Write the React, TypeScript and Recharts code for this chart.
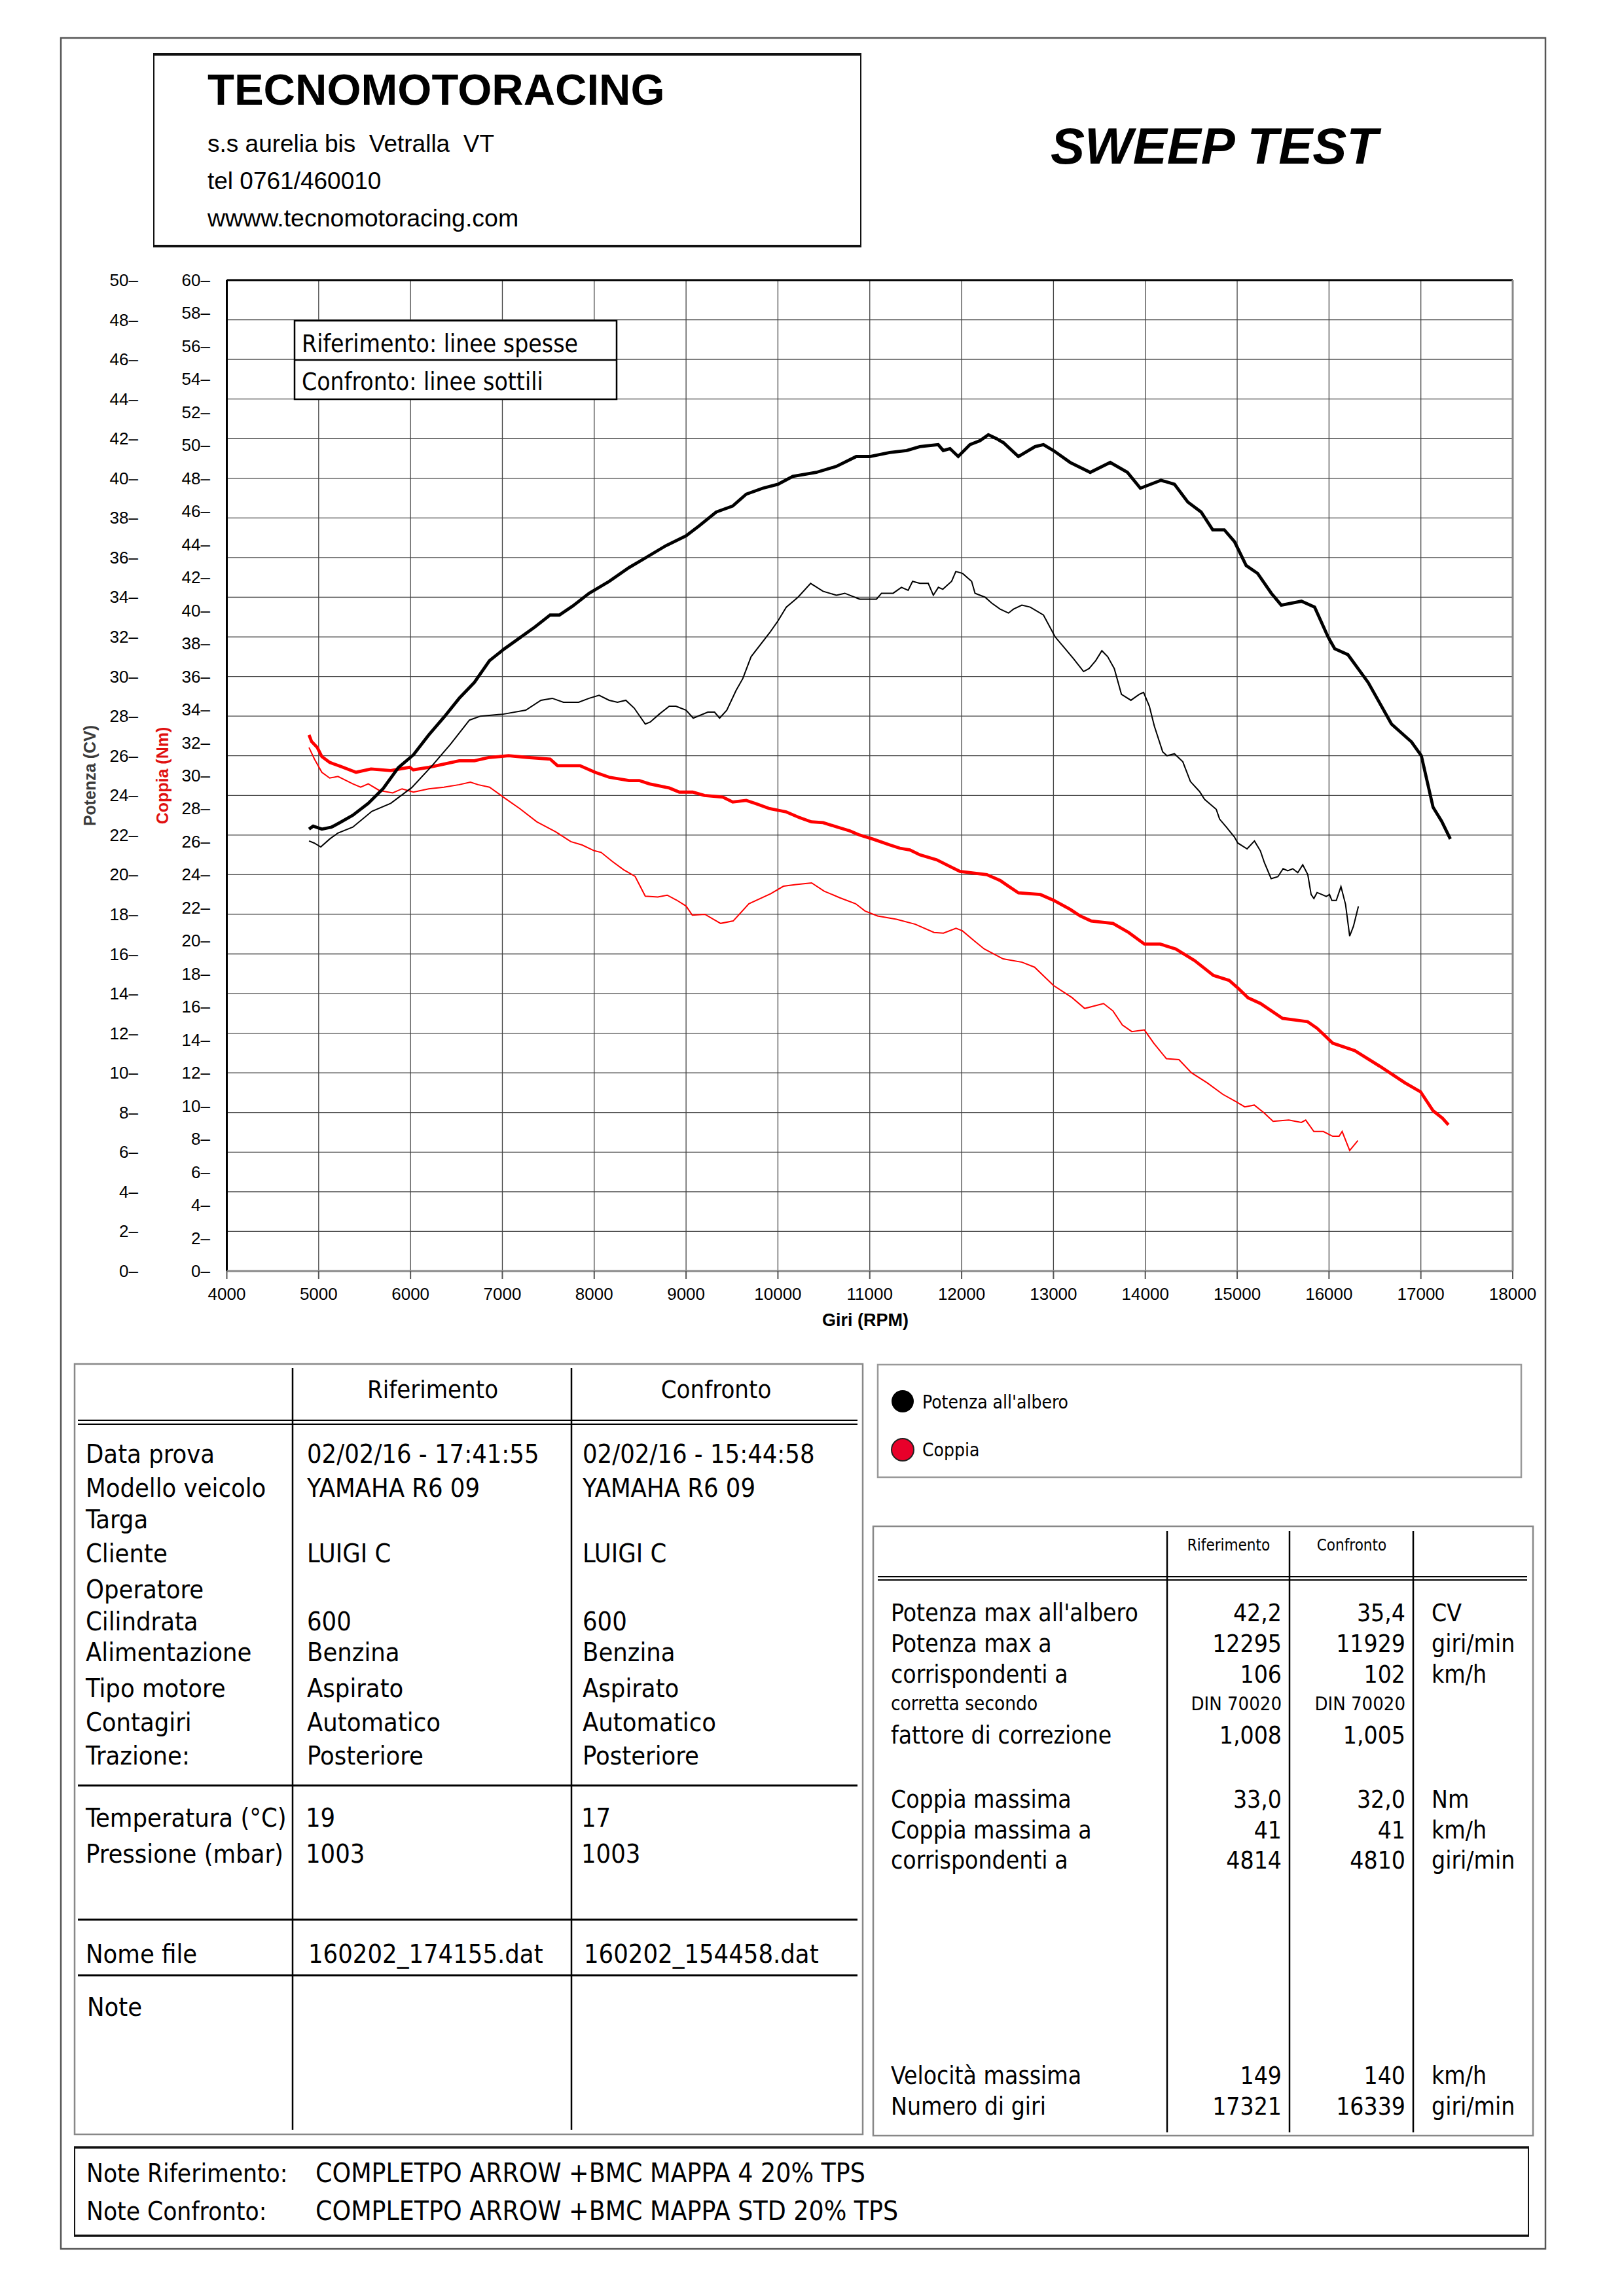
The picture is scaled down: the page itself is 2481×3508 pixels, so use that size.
import React from 'react';
import { LineChart, Line, XAxis, YAxis, CartesianGrid, ReferenceLine } from 'recharts';

// ---------- DATA ----------
const X_TICKS = [4000, 5000, 6000, 7000, 8000, 9000, 10000, 11000, 12000, 13000, 14000, 15000, 16000, 17000, 18000];
const POWER_TICKS = [0, 2, 4, 6, 8, 10, 12, 14, 16, 18, 20, 22, 24, 26, 28, 30, 32, 34, 36, 38, 40, 42, 44, 46, 48, 50];
const TORQUE_TICKS = [0, 2, 4, 6, 8, 10, 12, 14, 16, 18, 20, 22, 24, 26, 28, 30, 32, 34, 36, 38, 40, 42, 44, 46, 48, 50, 52, 54, 56, 58, 60];

// Riferimento - Potenza (CV), thick black
const REF_POWER: [number, number][] = [
  [4895, 22.3], [4940, 22.45], [5035, 22.3], [5140, 22.4], [5240, 22.65], [5372, 23.0], [5540, 23.6],
  [5703, 24.35], [5867, 25.4], [6032, 26.05], [6198, 27.05], [6365, 27.95], [6530, 28.9], [6695, 29.7],
  [6860, 30.8], [7023, 31.4], [7190, 31.95], [7355, 32.5], [7520, 33.1], [7620, 33.1], [7765, 33.55],
  [7945, 34.2], [8163, 34.8], [8380, 35.5], [8527, 35.9], [8780, 36.6], [9000, 37.1], [9143, 37.6],
  [9328, 38.3], [9507, 38.6], [9655, 39.2], [9834, 39.5], [10000, 39.7], [10162, 40.1], [10418, 40.3],
  [10636, 40.6], [10853, 41.1], [11000, 41.1], [11217, 41.3], [11402, 41.4], [11545, 41.6], [11745, 41.7],
  [11800, 41.4], [11873, 41.5], [11963, 41.1], [12091, 41.7], [12200, 41.9], [12291, 42.2], [12380, 42.0],
  [12455, 41.8], [12618, 41.1], [12800, 41.6], [12891, 41.7], [13000, 41.4], [13182, 40.8], [13400, 40.3],
  [13618, 40.8], [13805, 40.3], [13946, 39.5], [14171, 39.9], [14317, 39.7], [14463, 38.8], [14607, 38.3],
  [14734, 37.4], [14860, 37.4], [14971, 36.8], [15098, 35.6], [15223, 35.2], [15372, 34.2], [15480, 33.6],
  [15700, 33.8], [15843, 33.5], [15989, 32.0], [16062, 31.4], [16206, 31.1], [16426, 29.7], [16680, 27.6],
  [16898, 26.7], [17005, 26.0], [17133, 23.4], [17226, 22.7], [17321, 21.8],
];

// Confronto - Potenza (CV), thin black
const CMP_POWER: [number, number][] = [
  [4895, 21.7], [4950, 21.6], [5023, 21.4], [5120, 21.8], [5209, 22.1], [5372, 22.4], [5580, 23.2],
  [5785, 23.6], [6015, 24.4], [6235, 25.5], [6438, 26.6], [6642, 27.8], [6762, 28.0], [7010, 28.1],
  [7255, 28.3], [7420, 28.8], [7543, 28.9], [7665, 28.7], [7830, 28.7], [7945, 28.9], [8053, 29.05],
  [8163, 28.8], [8253, 28.7], [8344, 28.8], [8436, 28.4], [8556, 27.6], [8610, 27.7], [8708, 28.1],
  [8817, 28.5], [8890, 28.5], [9000, 28.3], [9078, 27.9], [9237, 28.2], [9310, 28.2], [9365, 27.9],
  [9443, 28.3], [9545, 29.3], [9618, 29.9], [9708, 31.0], [9909, 32.2], [10000, 32.8], [10091, 33.5],
  [10219, 34.0], [10356, 34.7], [10491, 34.3], [10637, 34.1], [10728, 34.2], [10890, 33.9], [11073, 33.9],
  [11128, 34.2], [11254, 34.2], [11345, 34.5], [11418, 34.35], [11466, 34.8], [11545, 34.7], [11637, 34.7],
  [11692, 34.1], [11747, 34.5], [11795, 34.4], [11891, 34.8], [11937, 35.3], [12011, 35.2], [12109, 34.8],
  [12146, 34.2], [12255, 34.0], [12328, 33.7], [12419, 33.4], [12510, 33.2], [12565, 33.4], [12656, 33.6],
  [12747, 33.5], [12891, 33.1], [13018, 32.0], [13109, 31.5], [13218, 30.9], [13328, 30.25], [13388, 30.4],
  [13460, 30.8], [13527, 31.3], [13590, 31.0], [13662, 30.4], [13740, 29.1], [13843, 28.8], [13934, 29.1],
  [13981, 29.2], [14044, 28.5], [14098, 27.5], [14189, 26.2], [14236, 26.0], [14317, 26.1], [14408, 25.7],
  [14491, 24.7], [14590, 24.2], [14645, 23.8], [14772, 23.3], [14809, 22.8], [14882, 22.4], [14970, 21.9],
  [15006, 21.6], [15108, 21.3], [15188, 21.7], [15253, 21.2], [15297, 20.6], [15370, 19.8], [15443, 19.9],
  [15500, 20.3], [15551, 20.2], [15605, 20.3], [15660, 20.1], [15714, 20.5], [15769, 20.0], [15805, 19.0],
  [15835, 18.8], [15870, 19.1], [15921, 19.0], [15970, 18.9], [16006, 19.0], [16031, 18.7], [16079, 18.7],
  [16130, 19.4], [16180, 18.5], [16225, 16.9], [16266, 17.4], [16320, 18.4],
];

// Riferimento - Coppia (Nm), thick red
const REF_TORQUE: [number, number][] = [
  [4895, 32.46], [4923, 32.06], [4985, 31.7], [5035, 31.15], [5120, 30.8], [5240, 30.55], [5407, 30.2],
  [5570, 30.4], [5785, 30.3], [5990, 30.5], [6030, 30.35], [6200, 30.5], [6365, 30.7], [6530, 30.9],
  [6695, 30.9], [6860, 31.1], [7068, 31.2], [7273, 31.1], [7520, 31.0], [7600, 30.6], [7845, 30.6],
  [8010, 30.2], [8163, 29.9], [8380, 29.7], [8490, 29.7], [8600, 29.5], [8817, 29.25], [8927, 29.0],
  [9072, 29.0], [9200, 28.8], [9400, 28.7], [9508, 28.4], [9655, 28.5], [9763, 28.3], [9909, 28.0],
  [10091, 27.8], [10237, 27.45], [10364, 27.2], [10492, 27.15], [10637, 26.9], [10783, 26.65], [10890, 26.4],
  [11037, 26.15], [11219, 25.8], [11328, 25.6], [11437, 25.5], [11546, 25.2], [11729, 24.9], [11873, 24.5],
  [11982, 24.2], [12128, 24.1], [12274, 24.0], [12419, 23.65], [12510, 23.3], [12619, 22.9], [12857, 22.8],
  [13000, 22.45], [13182, 21.9], [13291, 21.5], [13409, 21.2], [13648, 21.05], [13819, 20.5], [13990, 19.8],
  [14161, 19.8], [14332, 19.5], [14537, 18.8], [14742, 17.9], [14913, 17.6], [15015, 17.1], [15118, 16.55],
  [15254, 16.2], [15494, 15.3], [15767, 15.1], [15870, 14.7], [16040, 13.8], [16280, 13.35], [16553, 12.4],
  [16826, 11.4], [16997, 10.85], [17134, 9.7], [17236, 9.25], [17300, 8.85],
];

// Confronto - Coppia (Nm), thin red
const CMP_TORQUE: [number, number][] = [
  [4895, 31.7], [4954, 31.0], [5035, 30.2], [5120, 29.85], [5210, 29.95], [5372, 29.5], [5457, 29.3],
  [5540, 29.5], [5660, 29.1], [5806, 28.95], [5908, 29.2], [6032, 29.0], [6198, 29.2], [6363, 29.3],
  [6530, 29.45], [6652, 29.6], [6735, 29.45], [6860, 29.3], [7023, 28.65], [7190, 28.0], [7375, 27.2],
  [7580, 26.6], [7745, 26.0], [7868, 25.8], [8000, 25.45], [8075, 25.35], [8198, 24.8], [8320, 24.3],
  [8445, 23.9], [8556, 22.7], [8692, 22.65], [8795, 22.76], [8897, 22.46], [9000, 22.1], [9068, 21.55],
  [9205, 21.6], [9376, 21.05], [9513, 21.2], [9684, 22.24], [9923, 22.85], [10060, 23.3], [10196, 23.4],
  [10367, 23.5], [10504, 23.0], [10675, 22.6], [10846, 22.24], [10948, 21.8], [11085, 21.5], [11290, 21.3],
  [11495, 21.0], [11700, 20.5], [11802, 20.46], [11939, 20.75], [12008, 20.6], [12144, 19.96], [12247, 19.5],
  [12452, 18.9], [12657, 18.7], [12794, 18.4], [12999, 17.3], [13204, 16.55], [13340, 15.9], [13545, 16.2],
  [13648, 15.75], [13750, 14.9], [13853, 14.5], [13990, 14.6], [14092, 13.8], [14229, 12.86], [14366, 12.8],
  [14503, 12.0], [14673, 11.4], [14844, 10.7], [14980, 10.28], [15083, 9.94], [15186, 10.05], [15288, 9.6],
  [15391, 9.07], [15562, 9.14], [15699, 9.0], [15746, 9.14], [15835, 8.45], [15938, 8.45], [16040, 8.16],
  [16110, 8.16], [16143, 8.45], [16225, 7.3], [16314, 7.9],
];

// Tables
const INFO_LABELS = ['Data prova', 'Modello veicolo', 'Targa', 'Cliente', 'Operatore', 'Cilindrata', 'Alimentazione', 'Tipo motore', 'Contagiri', 'Trazione:'];
const INFO_REF = ['02/02/16 - 17:41:55', 'YAMAHA R6 09', '', 'LUIGI C', '', '600', 'Benzina', 'Aspirato', 'Automatico', 'Posteriore'];
const INFO_CMP = ['02/02/16 - 15:44:58', 'YAMAHA R6 09', '', 'LUIGI C', '', '600', 'Benzina', 'Aspirato', 'Automatico', 'Posteriore'];
const INFO_Y = [2235, 2287, 2335, 2387, 2442, 2491, 2538, 2593, 2645, 2696];
const ENV_LABELS = ['Temperatura (°C)', 'Pressione (mbar)'];
const ENV_REF = ['19', '1003'];
const ENV_CMP = ['17', '1003'];

const RES_LABELS = ["Potenza max all'albero", 'Potenza max a', 'corrispondenti a', 'corretta secondo', 'fattore di correzione', 'Coppia massima', 'Coppia massima a', 'corrispondenti a', 'Velocità massima', 'Numero di giri'];
const RES_REF = ['42,2', '12295', '106', 'DIN 70020', '1,008', '33,0', '41', '4814', '149', '17321'];
const RES_CMP = ['35,4', '11929', '102', 'DIN 70020', '1,005', '32,0', '41', '4810', '140', '16339'];
const RES_UNIT = ['CV', 'giri/min', 'km/h', '', '', 'Nm', 'km/h', 'giri/min', 'km/h', 'giri/min'];
const RES_Y = [2477, 2524, 2571, 2613, 2664, 2762, 2809, 2855, 3184, 3231];
const RES_SMALL = [false, false, false, true, false, false, false, false, false, false];

const toRows = (pts: [number, number][]) => pts.map(([rpm, v]) => ({ rpm, v }));
const refPower = toRows(REF_POWER);
const cmpPower = toRows(CMP_POWER);
const refTorque = toRows(REF_TORQUE);
const cmpTorque = toRows(CMP_TORQUE);

const AF = "'Liberation Sans', Arial, Helvetica, sans-serif";
const TF = "'DejaVu Sans Condensed', 'DejaVu Sans', Verdana, sans-serif";
const tfStyle: React.CSSProperties = { fontFamily: TF, fontStretch: 'condensed' };
const BODY = 39.5;

const PowerTick = (props: any) => (
  <text x={211} y={props.y} textAnchor="end" dominantBaseline="central" fontFamily={AF} fontSize={26} fill="#000">
    {`${props.payload.value}\u2013`}
  </text>
);
const TorqueTick = (props: any) => (
  <text x={321} y={props.y} textAnchor="end" dominantBaseline="central" fontFamily={AF} fontSize={26} fill="#000">
    {`${props.payload.value}\u2013`}
  </text>
);
const RpmTick = (props: any) => (
  <text x={props.x} y={1977} textAnchor="middle" dominantBaseline="central" fontFamily={AF} fontSize={26} fill="#000">
    {props.payload.value}
  </text>
);

export default function App() {
  return (
    <div style={{ position: 'relative', width: 2481, height: 3508, background: '#fff', overflow: 'hidden' }}>
      <style>{`body{margin:0;background:#fff}`}</style>

      <div style={{ position: 'absolute', left: 0, top: 0 }}>
        <LineChart width={2481} height={2000} margin={{ top: 428, right: 170, bottom: 8, left: 86.5 }}>
          <CartesianGrid yAxisId="power" stroke="#444" strokeWidth={1.3} />
          <XAxis
            type="number"
            dataKey="rpm"
            domain={[4000, 18000]}
            ticks={X_TICKS}
            interval={0}
            allowDataOverflow
            height={50}
            tick={RpmTick}
            tickSize={12}
            tickLine={{ stroke: '#555', strokeWidth: 2 }}
            axisLine={{ stroke: '#888', strokeWidth: 3 }}
          />
          <YAxis
            yAxisId="power"
            type="number"
            domain={[0, 50]}
            ticks={POWER_TICKS}
            interval={0}
            width={160}
            tick={PowerTick}
            tickLine={false}
            axisLine={false}
          />
          <YAxis
            yAxisId="torque"
            type="number"
            domain={[0, 60]}
            ticks={TORQUE_TICKS}
            interval={0}
            width={100}
            tick={TorqueTick}
            tickLine={false}
            axisLine={false}
          />
          <ReferenceLine yAxisId="power" y={50} stroke="#000" strokeWidth={3} />
          <ReferenceLine yAxisId="power" x={4000} stroke="#000" strokeWidth={3} />
          <ReferenceLine yAxisId="power" x={18000} stroke="#888" strokeWidth={3} />
          <Line data={cmpTorque} dataKey="v" yAxisId="torque" type="linear" stroke="#ff0000" strokeWidth={2} dot={false} isAnimationActive={false} />
          <Line data={refTorque} dataKey="v" yAxisId="torque" type="linear" stroke="#ff0000" strokeWidth={4.8} dot={false} isAnimationActive={false} />
          <Line data={cmpPower} dataKey="v" yAxisId="power" type="linear" stroke="#000" strokeWidth={2} dot={false} isAnimationActive={false} />
          <Line data={refPower} dataKey="v" yAxisId="power" type="linear" stroke="#000" strokeWidth={4.8} dot={false} isAnimationActive={false} />
        </LineChart>
      </div>

      <svg width={2481} height={3508} style={{ position: 'absolute', left: 0, top: 0, pointerEvents: 'none' }}>
        {/* page frame */}
        <rect x={93} y={58} width={2268} height={3378} fill="none" stroke="#555" strokeWidth={2.5} />

        {/* header box */}
        <line x1={234} y1={83} x2={1316} y2={83} stroke="#111" strokeWidth={4} />
        <line x1={234} y1={376} x2={1316} y2={376} stroke="#111" strokeWidth={4} />
        <line x1={235} y1={83} x2={235} y2={376} stroke="#111" strokeWidth={2} />
        <line x1={1315} y1={83} x2={1315} y2={376} stroke="#111" strokeWidth={2} />
        <text x={317} y={160} fontFamily={AF} fontWeight="bold" fontSize={67} fill="#000">TECNOMOTORACING</text>
        <text x={317} y={232} fontFamily={AF} fontSize={37} fill="#000" style={{ whiteSpace: 'pre' }}>{'s.s aurelia bis  Vetralla  VT'}</text>
        <text x={317} y={289} fontFamily={AF} fontSize={37} fill="#000">tel 0761/460010</text>
        <text x={317} y={346} fontFamily={AF} fontSize={37.5} fill="#000">wwww.tecnomotoracing.com</text>
        <text x={1605} y={250} fontFamily={AF} fontWeight="bold" fontStyle="italic" fontSize={78} fill="#000">SWEEP TEST</text>

        {/* axis titles */}
        <text x={0} y={0} transform="translate(146,1185) rotate(-90)" textAnchor="middle" fontFamily={AF} fontWeight="bold" fontSize={25} fill="#3a3a3a">Potenza (CV)</text>
        <text x={0} y={0} transform="translate(257,1185) rotate(-90)" textAnchor="middle" fontFamily={AF} fontWeight="bold" fontSize={25} fill="#e01010">Coppia (Nm)</text>
        <text x={1322} y={2026} textAnchor="middle" fontFamily={AF} fontWeight="bold" fontSize={27} fill="#000">Giri (RPM)</text>

        {/* in-chart legend box */}
        <rect x={450} y={490} width={492} height={120} fill="#fff" stroke="#000" strokeWidth={2.5} />
        <line x1={450} y1={550} x2={942} y2={550} stroke="#000" strokeWidth={2.5} />
        <text x={461} y={538} style={tfStyle} fontSize={37} fill="#000">Riferimento: linee spesse</text>
        <text x={461} y={596} style={tfStyle} fontSize={37} fill="#000">Confronto: linee sottili</text>

        {/* left info table */}
        <rect x={114} y={2084} width={1204} height={1177} fill="none" stroke="#888" strokeWidth={2.5} />
        <line x1={447} y1={2090} x2={447} y2={3254} stroke="#000" strokeWidth={2.5} />
        <line x1={873} y1={2090} x2={873} y2={3254} stroke="#000" strokeWidth={2.5} />
        <line x1={119} y1={2170} x2={1310} y2={2170} stroke="#000" strokeWidth={2} />
        <line x1={119} y1={2176} x2={1310} y2={2176} stroke="#000" strokeWidth={2} />
        <line x1={119} y1={2728} x2={1310} y2={2728} stroke="#000" strokeWidth={3} />
        <line x1={119} y1={2933} x2={1310} y2={2933} stroke="#000" strokeWidth={3} />
        <line x1={119} y1={3018} x2={1310} y2={3018} stroke="#000" strokeWidth={3} />
        <text x={661} y={2136} textAnchor="middle" style={tfStyle} fontSize={38} fill="#000">Riferimento</text>
        <text x={1094} y={2136} textAnchor="middle" style={tfStyle} fontSize={38} fill="#000">Confronto</text>
        {INFO_LABELS.map((l, i) => (
          <g key={'info' + i}>
            <text x={131} y={INFO_Y[i]} style={tfStyle} fontSize={BODY} fill="#000">{l}</text>
            <text x={469} y={INFO_Y[i]} style={tfStyle} fontSize={BODY} fill="#000">{INFO_REF[i]}</text>
            <text x={890} y={INFO_Y[i]} style={tfStyle} fontSize={BODY} fill="#000">{INFO_CMP[i]}</text>
          </g>
        ))}
        {ENV_LABELS.map((l, i) => (
          <g key={'env' + i}>
            <text x={131} y={2791 + i * 55} style={tfStyle} fontSize={BODY} fill="#000">{l}</text>
            <text x={467} y={2791 + i * 55} style={tfStyle} fontSize={BODY} fill="#000">{ENV_REF[i]}</text>
            <text x={888} y={2791 + i * 55} style={tfStyle} fontSize={BODY} fill="#000">{ENV_CMP[i]}</text>
          </g>
        ))}
        <text x={131} y={2999} style={tfStyle} fontSize={BODY} fill="#000">Nome file</text>
        <text x={471} y={2999} style={tfStyle} fontSize={BODY} fill="#000">160202_174155.dat</text>
        <text x={892} y={2999} style={tfStyle} fontSize={BODY} fill="#000">160202_154458.dat</text>
        <text x={133} y={3080} style={tfStyle} fontSize={BODY} fill="#000">Note</text>

        {/* legend (series colours) */}
        <rect x={1341} y={2085} width={983} height={172} fill="none" stroke="#999" strokeWidth={2.5} />
        <circle cx={1379} cy={2141} r={17} fill="#000" />
        <circle cx={1379} cy={2215} r={17} fill="#e8002a" stroke="#222" strokeWidth={2} />
        <text x={1409} y={2152} style={tfStyle} fontSize={28} fill="#000">Potenza all'albero</text>
        <text x={1409} y={2225} style={tfStyle} fontSize={28} fill="#000">Coppia</text>

        {/* right results table */}
        <rect x={1334} y={2332} width={1008} height={931} fill="none" stroke="#888" strokeWidth={2.5} />
        <line x1={1783} y1={2339} x2={1783} y2={3258} stroke="#000" strokeWidth={2.5} />
        <line x1={1970} y1={2339} x2={1970} y2={3258} stroke="#000" strokeWidth={2.5} />
        <line x1={2159} y1={2339} x2={2159} y2={3258} stroke="#000" strokeWidth={2.5} />
        <line x1={1341} y1={2409} x2={2333} y2={2409} stroke="#000" strokeWidth={2} />
        <line x1={1341} y1={2414} x2={2333} y2={2414} stroke="#000" strokeWidth={2} />
        <text x={1877} y={2369} textAnchor="middle" style={tfStyle} fontSize={24} fill="#000">Riferimento</text>
        <text x={2065} y={2369} textAnchor="middle" style={tfStyle} fontSize={24} fill="#000">Confronto</text>
        {RES_LABELS.map((l, i) => (
          <g key={'res' + i}>
            <text x={1361} y={RES_Y[i]} style={tfStyle} fontSize={RES_SMALL[i] ? 29.5 : 37} fill="#000">{l}</text>
            <text x={1958} y={RES_Y[i]} textAnchor="end" style={tfStyle} fontSize={RES_SMALL[i] ? 29 : 37} fill="#000">{RES_REF[i]}</text>
            <text x={2147} y={RES_Y[i]} textAnchor="end" style={tfStyle} fontSize={RES_SMALL[i] ? 29 : 37} fill="#000">{RES_CMP[i]}</text>
            <text x={2187} y={RES_Y[i]} style={tfStyle} fontSize={37} fill="#000">{RES_UNIT[i]}</text>
          </g>
        ))}

        {/* notes box */}
        <line x1={113} y1={3281} x2={2336} y2={3281} stroke="#111" strokeWidth={3.5} />
        <line x1={113} y1={3416} x2={2336} y2={3416} stroke="#111" strokeWidth={3.5} />
        <line x1={114} y1={3281} x2={114} y2={3416} stroke="#111" strokeWidth={2} />
        <line x1={2335} y1={3281} x2={2335} y2={3416} stroke="#111" strokeWidth={2} />
        <text x={132} y={3334} style={tfStyle} fontSize={38.5} fill="#000">Note Riferimento:</text>
        <text x={482} y={3334} style={tfStyle} fontSize={40.5} fill="#000">COMPLETPO ARROW +BMC MAPPA 4 20% TPS</text>
        <text x={132} y={3392} style={tfStyle} fontSize={38.5} fill="#000">Note Confronto:</text>
        <text x={482} y={3392} style={tfStyle} fontSize={40.5} fill="#000">COMPLETPO ARROW +BMC MAPPA STD 20% TPS</text>
      </svg>
    </div>
  );
}
